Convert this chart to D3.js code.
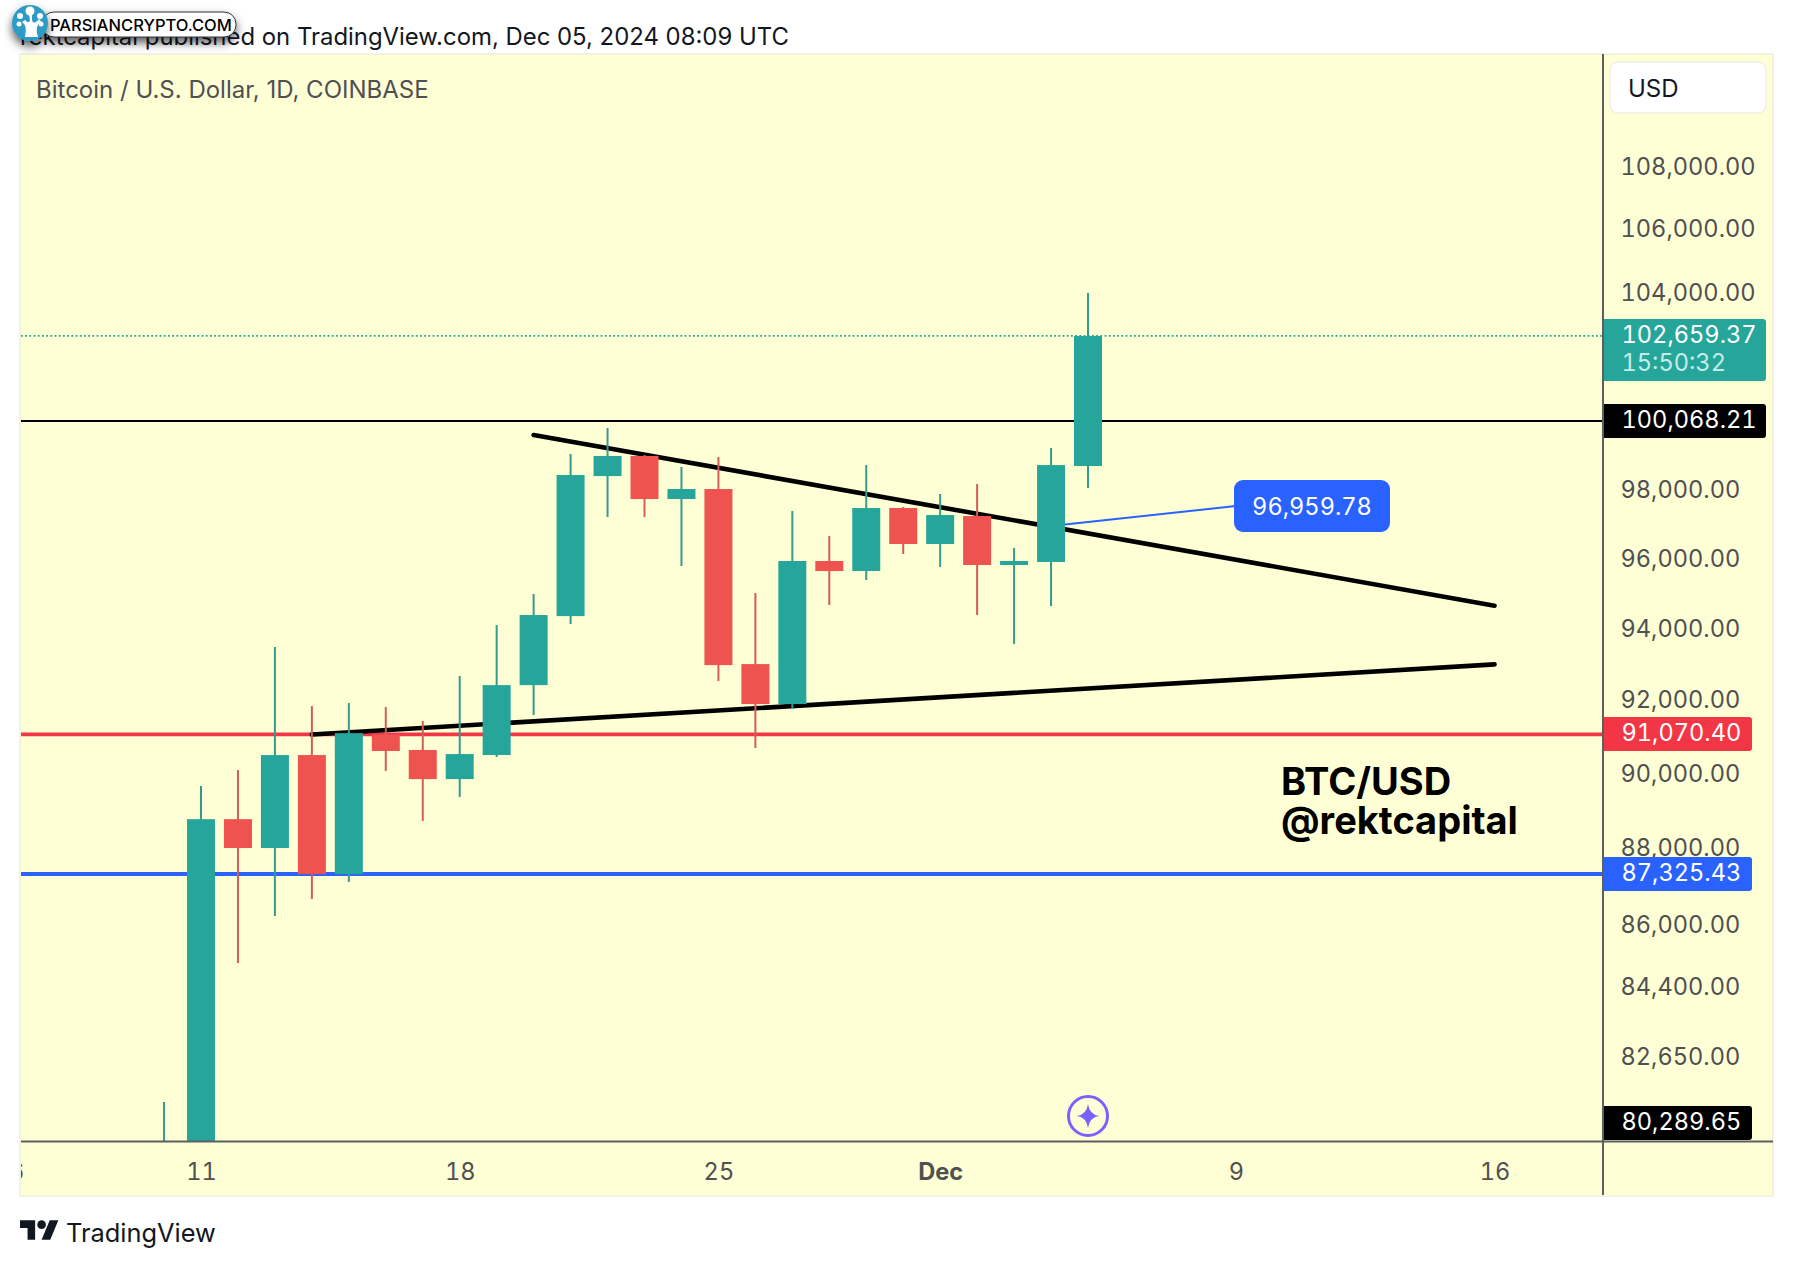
<!DOCTYPE html>
<html><head><meta charset="utf-8">
<script src="https://cdn.jsdelivr.net/npm/d3@7"></script>
<style>html,body{margin:0;padding:0;background:#fff}svg{display:block}text{font-family:Inter,"Noto Sans",sans-serif}.num{font-variant-numeric:tabular-nums}</style>
</head><body><svg id="c" width="1794" height="1266"></svg>
<script>
const days=["2024-11-10","2024-11-11","2024-11-12","2024-11-13","2024-11-14","2024-11-15","2024-11-16","2024-11-17","2024-11-18","2024-11-19","2024-11-20","2024-11-21","2024-11-22","2024-11-23","2024-11-24","2024-11-25","2024-11-26","2024-11-27","2024-11-28","2024-11-29","2024-11-30","2024-12-01","2024-12-02","2024-12-03","2024-12-04","2024-12-05"];
const opens =[76700,80370,88779,88012,90507,87325,91070,90646,89855,90507,92430,94368,98425,99021,97748,98043,93016,91905,95944,95655,97484,96435,97250,95829,95915,98723];
const highs =[81540,89668,90100,93495,91850,91933,91823,91438,92683,94115,94997,99080,99858,99050,98693,98991,95025,97397,96667,98752,97514,97895,98190,96320,99259,103994];
const lows  =[76500,80216,85020,86230,86672,87120,90074,88730,89373,90453,91603,94144,97221,97221,95799,92544,90699,91768,94683,95397,96146,95771,94398,93578,94655,98072];
const closes=[80370,88779,88012,90507,87325,91105,90617,89855,90534,92430,94398,98456,99021,97748,98043,92988,91905,95944,95655,97484,96435,97279,95829,95944,98752,102659.37];

const priceTicks=[108000,106000,104000,98000,96000,94000,92000,90000,88000,86000,84400,82650];
const dateTicks=["2024-11-06","2024-11-11","2024-11-18","2024-11-25","2024-12-01","2024-12-09","2024-12-16"];
const dateTickLabels=["6","11","18","25","Dec","9","16"];
const lastPrice=102659.37, resistance=100068.21, redLevel=91070.40, blueLevel=87325.43, lowLabel=80289.65, calloutPrice=96959.78;
const upperTrendDates=["2024-11-20T00:00Z","2024-12-16T00:00Z"], upperTrendPrices=[99647,94665];
const lowerTrendDates=["2024-11-14T00:00Z","2024-12-16T00:00Z"], lowerTrendPrices=[91067,93007];

const UP="#26a69a",DOWN="#ef5350",WUP="#379a8e",WDOWN="#d35c55",BG="#ffffd6",AX="#5d5e60",TXT="#4f5052";
const L=21,R=1773,T=54,B=1195,AXX=1603,AXY=1141.5;
const svg=d3.select("#c");
const parse=s=>new Date(s.length==10?s+"T00:00Z":s);
const x=d3.scaleUtc().domain([parse("2024-11-11"),parse("2024-12-05")]).range([201,1088]);
const y=d3.scaleLog().domain([80604,111775]).range([1140.5,53]);
const fmt=d3.format(",.2f");

const defs=svg.append("defs");
defs.append("clipPath").attr("id","plot").append("rect").attr("x",L).attr("y",T).attr("width",AXX-L).attr("height",AXY-T);
defs.append("clipPath").attr("id","xclipT").append("rect").attr("x",L).attr("y",-30).attr("width",AXX-L).attr("height",60);
const f=defs.append("filter").attr("id","sh").attr("x","-20%").attr("y","-40%").attr("width","140%").attr("height","220%");
f.append("feDropShadow").attr("dx",0).attr("dy",5).attr("stdDeviation",5).attr("flood-color","#000").attr("flood-opacity",.65);

// header
svg.append("text").attr("x",20).attr("y",44.5).attr("font-size",23.9).attr("fill","#131722").text("rektcapital published on TradingView.com, Dec 05, 2024 08:09 UTC");

// panel
svg.append("rect").attr("x",L-1).attr("y",T).attr("width",R-L+1).attr("height",B-T+1).attr("fill",BG).attr("stroke","#eeeedd").attr("stroke-width",1.5);
svg.append("text").attr("x",36).attr("y",98).attr("font-size",24).attr("fill",TXT).text("Bitcoin / U.S. Dollar, 1D, COINBASE");

const plot=svg.append("g").attr("clip-path","url(#plot)");
// horizontal levels
plot.append("line").attr("x1",L).attr("x2",AXX).attr("y1",y(lastPrice)).attr("y2",y(lastPrice)).attr("stroke",UP).attr("stroke-width",1.8).attr("stroke-dasharray","1.8 2.4");
plot.append("line").attr("x1",L).attr("x2",AXX).attr("y1",y(resistance)).attr("y2",y(resistance)).attr("stroke","#000").attr("stroke-width",2);
plot.append("line").attr("x1",L).attr("x2",AXX).attr("y1",y(redLevel)).attr("y2",y(redLevel)).attr("stroke","#f23645").attr("stroke-width",3.6);
plot.append("line").attr("x1",L).attr("x2",AXX).attr("y1",y(blueLevel)).attr("y2",y(blueLevel)).attr("stroke","#2962ff").attr("stroke-width",4);
// trend lines
const tl=d3.line().x(d=>x(parse(d[0]))).y(d=>y(d[1]));
[[upperTrendDates,upperTrendPrices],[lowerTrendDates,lowerTrendPrices]].forEach(([ds,ps])=>{
  plot.append("path").attr("d",tl(d3.zip(ds,ps))).attr("fill","none").attr("stroke","#000").attr("stroke-width",4.6).attr("stroke-linecap","round");
});
// callout leader
plot.append("line").attr("x1",x(parse("2024-12-04"))).attr("y1",y(calloutPrice)).attr("x2",1236).attr("y2",506).attr("stroke","#2962ff").attr("stroke-width",2);

// candles
const idx=d3.range(days.length);
const g=plot.selectAll("g.c").data(idx).join("g").attr("class","c");
g.append("line").attr("x1",i=>x(parse(days[i]))).attr("x2",i=>x(parse(days[i])))
 .attr("y1",i=>y(highs[i])).attr("y2",i=>y(lows[i])).attr("stroke-width",2)
 .attr("stroke",i=>closes[i]>=opens[i]?WUP:WDOWN);
g.append("rect").attr("x",i=>x(parse(days[i]))-14).attr("width",28)
 .attr("y",i=>y(Math.max(opens[i],closes[i]))).attr("height",i=>Math.abs(y(opens[i])-y(closes[i])))
 .attr("fill",i=>closes[i]>=opens[i]?UP:DOWN);

// callout box
svg.append("rect").attr("x",1234).attr("y",480).attr("width",156).attr("height",52).attr("rx",9).attr("fill","#2962ff");
svg.append("text").attr("class","num").attr("x",1312).attr("y",515).attr("text-anchor","middle").attr("font-size",23.6).attr("fill","#fff").text(fmt(calloutPrice));

// annotation
svg.append("text").attr("x",1281).attr("y",794.5).attr("font-size",38).attr("font-weight",700).attr("fill","#000").text("BTC/USD");
svg.append("text").attr("x",1281).attr("y",834).attr("font-size",38).attr("font-weight",700).attr("fill","#000").text("@rektcapital");

// star marker
const sx=x(parse("2024-12-05")),sy=1116;
svg.append("circle").attr("cx",sx).attr("cy",sy).attr("r",19.5).attr("fill","none").attr("stroke","#7b61ff").attr("stroke-width",3);
const star=d3.path();star.moveTo(sx,sy-12);star.quadraticCurveTo(sx+1.5,sy-1.5,sx+11,sy);star.quadraticCurveTo(sx+1.5,sy+1.5,sx,sy+12);star.quadraticCurveTo(sx-1.5,sy+1.5,sx-11,sy);star.quadraticCurveTo(sx-1.5,sy-1.5,sx,sy-12);star.closePath();
svg.append("path").attr("d",star.toString()).attr("fill","#7b61ff");

// axes
svg.append("line").attr("x1",AXX).attr("x2",AXX).attr("y1",T).attr("y2",B).attr("stroke",AX).attr("stroke-width",2);
svg.append("line").attr("x1",L).attr("x2",R).attr("y1",AXY).attr("y2",AXY).attr("stroke",AX).attr("stroke-width",2);

const yAxis=d3.axisRight(y).tickValues(priceTicks).tickFormat(fmt).tickSize(0).tickPadding(17.5);
const ya=svg.append("g").attr("transform",`translate(${AXX},0)`).call(yAxis);
ya.select(".domain").remove();
ya.selectAll("text").attr("class","num").attr("font-size",23.6).attr("font-family","Inter").attr("fill",TXT).attr("dy","0.31em");

const xAxis=d3.axisBottom(x).tickValues(dateTicks.map(parse)).tickFormat((d,i)=>dateTickLabels[i]).tickSize(0).tickPadding(0);
const xa=svg.append("g").attr("transform","translate(0,1171)").attr("clip-path","url(#xclipT)").call(xAxis);
xa.select(".domain").remove();
xa.selectAll("text").attr("class","num").attr("font-size",23.6).attr("font-family","Inter").attr("fill",TXT).attr("dy","0.36em")
  .attr("font-weight",(d,i)=>dateTickLabels[i]=="Dec"?700:400);

// price tags
function tag(v,y0,y1,right,fill,ty){
  svg.append("path").attr("d",`M${AXX+1},${y0}H${right-3}a3,3 0 0 1 3,3V${y1-3}a3,3 0 0 1 -3,3H${AXX+1}Z`).attr("fill",fill);
  svg.append("text").attr("class","num").attr("x",1621.5).attr("y",ty).attr("font-size",23.6).attr("fill","#fff").text(fmt(v));
}
tag(lastPrice,319,381,1766,UP,343);
svg.append("text").attr("class","num").attr("x",1621.5).attr("y",371).attr("font-size",23.6).attr("fill","#c4ece7").text("15:50:32");
tag(resistance,404,438,1766,"#000",428);
tag(redLevel,717,751,1752,"#f23645",741);
tag(blueLevel,857,891,1752,"#2962ff",881);
tag(lowLabel,1106,1140,1752,"#000",1130);

// currency box
svg.append("rect").attr("x",1610).attr("y",62).attr("width",156).attr("height",51).attr("rx",8).attr("fill","#fff").attr("stroke","#f0f0e6").attr("stroke-width",1.5);
svg.append("text").attr("x",1628).attr("y",97).attr("font-size",24).attr("fill","#131722").text("USD");

// footer logo
const logo=svg.append("g").attr("transform","translate(20,1216) scale(1.08)").attr("fill","#131722");
logo.append("path").attr("d","M14 22H7V11H0V4h14v18zM28 22h-8l7.5-18h8L28 22z");
logo.append("circle").attr("cx",20).attr("cy",8).attr("r",4);
svg.append("text").attr("x",66).attr("y",1241.5).attr("font-size",25.4).attr("fill","#131722").text("TradingView");

// watermark
const wm=svg.append("g");
wm.append("rect").attr("x",42).attr("y",12).attr("width",194).attr("height",25).attr("rx",12).attr("fill","#fff").attr("stroke","#333").attr("stroke-width",1).attr("filter","url(#sh)");
wm.append("text").attr("x",50).attr("y",31).attr("font-size",16.5).attr("font-weight",500).attr("font-family","Roboto").attr("fill","#000").text("PARSIANCRYPTO.COM");
wm.append("circle").attr("cx",30).attr("cy",23).attr("r",18).attr("fill","#2f9bc6").attr("filter","url(#sh)");
wm.append("path").attr("d","M25,37C26,30 27,26 22,22L25,20C28,23 29,23 30,20L29,14H32L32,20C33,24 36,23 39,19L41,21C36,26 36,30 38,37Z").attr("fill","#fff");
[[30,11,4.5],[20,16,3],[40,16,3],[19,24,2.5],[41,24,2.5]].forEach(c=>wm.append("circle").attr("cx",c[0]).attr("cy",c[1]).attr("r",c[2]).attr("fill","#fff"));
</script></body></html>
